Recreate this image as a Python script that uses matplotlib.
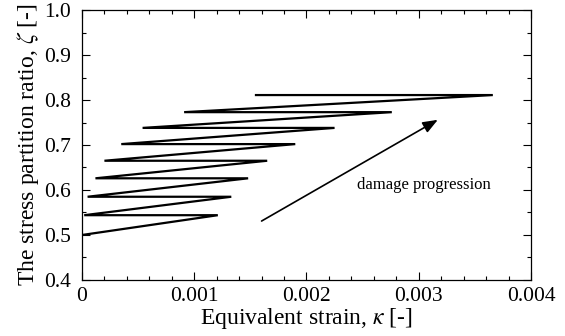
import matplotlib
matplotlib.use("Agg")
import matplotlib.pyplot as plt
from matplotlib.ticker import MultipleLocator

plt.rcParams["font.family"] = ["Liberation Serif", "DejaVu Serif"]
plt.rcParams["mathtext.fontset"] = "stix"

# Zigzag path of the stress partition ratio
strain = [0.0, 0.00121, 0.00002, 0.00133, 0.00005, 0.00148, 0.00012, 0.00165,
          0.00020, 0.00190, 0.00035, 0.00225, 0.00054, 0.00276, 0.00091, 0.00366,
          0.00155]
ratio = [0.500, 0.544, 0.544, 0.585, 0.585, 0.626, 0.626, 0.665,
         0.665, 0.702, 0.702, 0.738, 0.738, 0.773, 0.773, 0.811,
         0.811]

arrow_start = (0.00160, 0.531)
arrow_end = (0.00317, 0.756)

fig = plt.figure(figsize=(5.65, 3.36), dpi=100)
ax = fig.add_axes([0.1451, 0.1667, 0.7947, 0.8035])

ax.plot(strain, ratio, color="black", lw=1.6, solid_joinstyle="miter")

ax.annotate("", xy=arrow_end, xytext=arrow_start,
            arrowprops=dict(arrowstyle="-|>,head_length=0.9,head_width=0.35",
                            color="black", lw=1.2, shrinkA=0, shrinkB=0))
ax.text(0.00305, 0.611, "damage progression", ha="center", va="center", fontsize=12)

ax.set_xlim(0, 0.004)
ax.set_ylim(0.4, 1.0)
ax.xaxis.set_major_locator(MultipleLocator(0.001))
ax.xaxis.set_minor_locator(MultipleLocator(0.0002))
ax.yaxis.set_major_locator(MultipleLocator(0.1))
ax.yaxis.set_minor_locator(MultipleLocator(0.05))
ax.xaxis.set_major_formatter(plt.FuncFormatter(lambda v, p: "0" if v == 0 else f"{v:.3f}"))
ax.yaxis.set_major_formatter(plt.FuncFormatter(lambda v, p: f"{v:.1f}"))
ax.tick_params(which="both", direction="in", top=True, right=True, labelsize=15.5, width=0.8)
ax.tick_params(which="major", length=6)
ax.tick_params(which="minor", length=3)
ax.tick_params(axis="x", which="major", pad=5)
ax.tick_params(axis="y", which="major", pad=8)
for s in ax.spines.values():
    s.set_linewidth(0.9)

ax.set_xlabel(r"Equivalent strain, $\kappa$ [-]", fontsize=17, labelpad=0)
ax.set_ylabel(r"The stress partition ratio, $\zeta$ [-]", fontsize=17, labelpad=2)

fig.savefig("out.png", dpi=100)
